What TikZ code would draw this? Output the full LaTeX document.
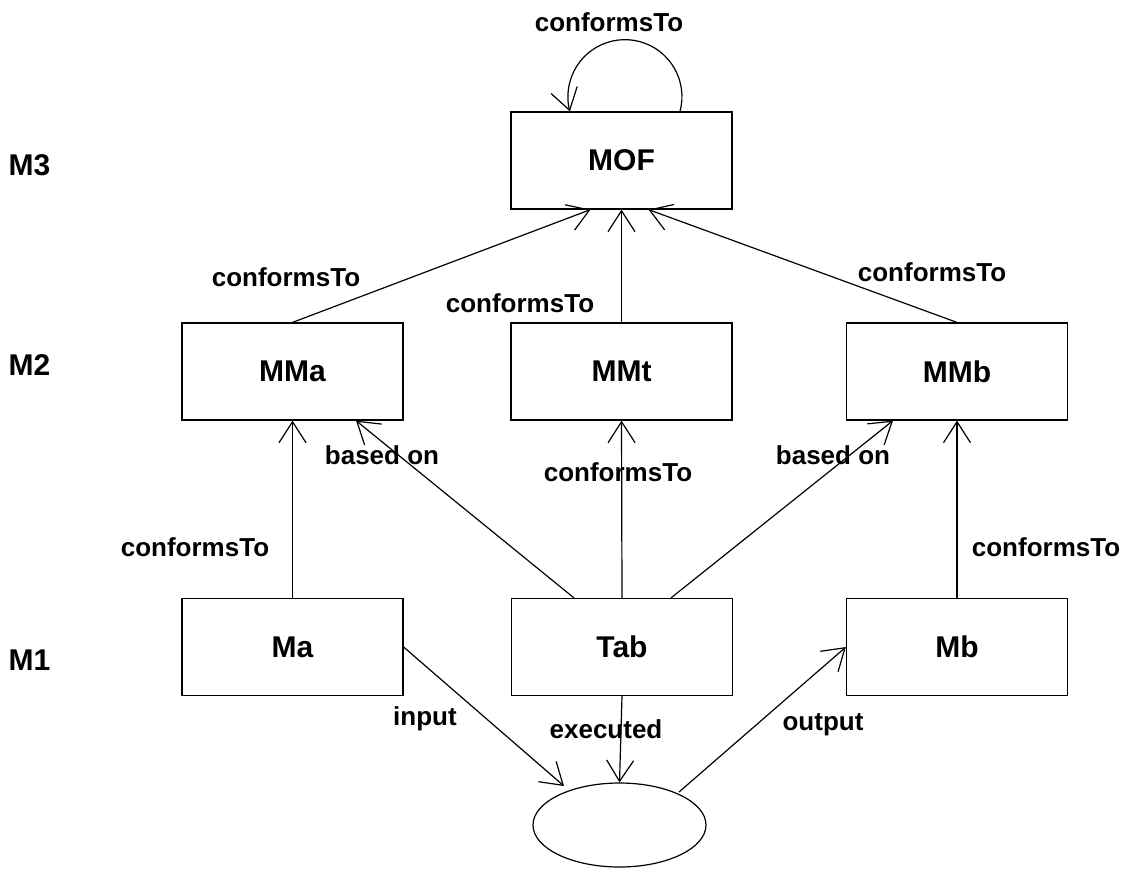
\documentclass[tikz,border=0pt]{standalone}
\usepackage{fontspec}
\setmainfont{Liberation Sans}
\usetikzlibrary{arrows.meta,shapes.geometric,calc}
\begin{document}
\begin{tikzpicture}[x=0.75pt,y=-0.75pt,
  box/.style={draw,line width=0.9pt,minimum width=165.75pt,minimum height=72.75pt,inner sep=0pt,
    font=\fontsize{22.5}{27}\selectfont\bfseries},
  lvl/.style={font=\fontsize{22.5}{27}\selectfont\bfseries,inner sep=0pt},
  lab/.style={font=\fontsize{19.5}{23}\selectfont\bfseries,inner sep=0pt},
  arr/.style={line width=0.9pt,-{Straight Barb[length=15.75pt,width=20.25pt,line width=0.9pt]}},
  plain/.style={line width=0.9pt}]
\useasboundingbox (0,0) rectangle (1124,868);

% boxes
\node[box] (MOF) at (621.5,160.5) {MOF};
\node[box] (MMa) at (292.5,371.5) {MMa};
\node[box] (MMt) at (621.5,371.5) {MMt};
\node[box] (MMb) at (957,371.5) {MMb};
\node[box] (Ma)  at (292.5,647) {Ma};
\node[box] (Tab) at (622,647) {Tab};
\node[box] (Mb)  at (957,647) {Mb};
\node[draw,ellipse,line width=0.9pt,minimum width=129.75pt,minimum height=63pt,inner sep=0pt] (ex) at (619.5,825) {};

% level labels
\node[lvl] (M3) at (29.5,165) {M3};
\node[lvl] (M2) at (29.5,365) {M2};
\node[lvl] (M1) at (29.5,660) {M1};

% self loop
\draw[arr] ($(MOF.north)+(58.5,0)$) arc[start angle=15,end angle=-195,radius=57];

% connectors
\draw[arr] (MMa.north) -- ($(MOF.south)+(-31,0)$);
\draw[arr] (MMt.north) -- (MOF.south);
\draw[arr] (MMb.north) -- ($(MOF.south)+(27,0)$);
\draw[arr] (Ma.north) -- (MMa.south);
\draw[arr] ($(Tab.north)+(-48,0)$) -- ($(MMa.south)+(63.5,0)$);
\draw[arr] (Tab.north) -- (MMt.south);
\draw[arr] ($(Tab.north)+(49,0)$) -- ($(MMb.south)+(-64,0)$);
\draw[arr] (Mb.north) -- (MMb.south);
\draw[arr] (Ma.east) -- ($(ex.center)+(-55.5,-39)$);
\draw[arr] (Tab.south) -- (ex.north);
\draw[arr] ($(ex.center)+(59.5,-33)$) -- (Mb.west);

% edge labels
\node[lab] (l0) at (609,22) {conformsTo};
\node[lab] (l1) at (286,277) {conformsTo};
\node[lab] (l2) at (520,303) {conformsTo};
\node[lab] (l3) at (932,272) {conformsTo};
\node[lab] (l4) at (382,455) {based on};
\node[lab] (l5) at (618,472) {conformsTo};
\node[lab] (l6) at (833,455) {based on};
\node[lab] (l7) at (195,547) {conformsTo};
\node[lab] (l8) at (1046,547) {conformsTo};
\node[lab] (l9) at (425,719) {input};
\node[lab] (l10) at (606,729) {executed};
\node[lab] (l11) at (823,725) {output};
\end{tikzpicture}
\end{document}
